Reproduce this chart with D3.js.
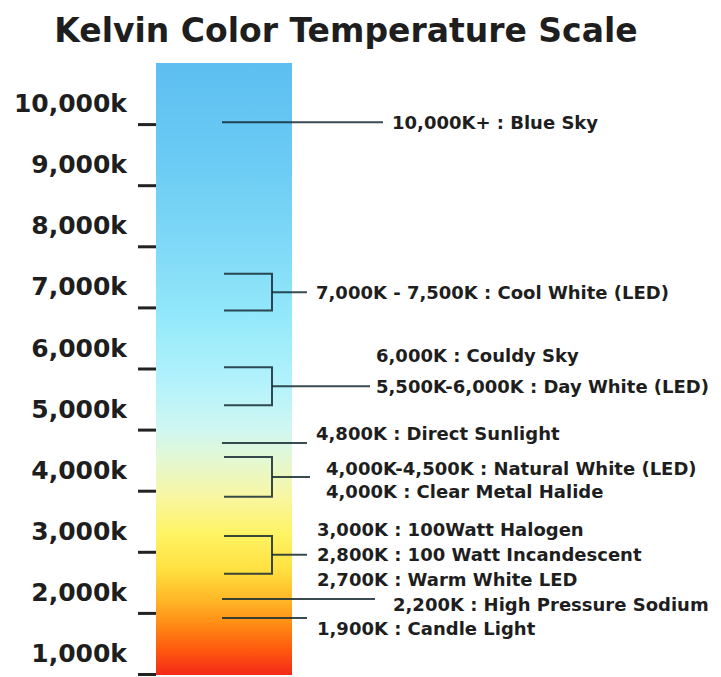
<!DOCTYPE html>
<html>
<head>
<meta charset="utf-8">
<script src="https://cdn.jsdelivr.net/npm/d3@7"></script>
<style>
  html, body { margin: 0; padding: 0; background: #fff; }
  svg { display: block; }
  text { font-family: "DejaVu Sans", sans-serif; fill: #1e1e1e; }
</style>
</head>
<body>
<div id="chart"></div>
<script>
// Axis ticks
const tickValues = [1000, 2000, 3000, 4000, 5000, 6000, 7000, 8000, 9000, 10000];
const tickLabels = ["1,000k", "2,000k", "3,000k", "4,000k", "5,000k", "6,000k", "7,000k", "8,000k", "9,000k", "10,000k"];

// Gradient stops (kelvin -> colour)
const stopKelvin = [1000, 1400, 1800, 2200, 2700, 3300, 3900, 4500, 5000, 5800, 6800, 8000, 9500, 11000];
const stopColors = ["#f42a18", "#ff5a0e", "#ff8a14", "#ffb626", "#ffe040", "#fff464", "#f8f6a2", "#e4f8d2", "#cff7f2", "#b2f2fc", "#94e9fa", "#7fd9f7", "#6acaf4", "#5cbff1"];

// Single-line markers
const markValues = [10030, 4780, 2227, 1916];
const markLabels = ["10,000K+ : Blue Sky", "4,800K : Direct Sunlight", "2,200K : High Pressure Sodium", "1,900K : Candle Light"];

// Bracketed ranges [upper, lower]
const bracketRanges = [[7550, 6950], [6020, 5400], [4550, 3900], [3260, 2640]];
const bracketLabels = [
    ["7,000K - 7,500K : Cool White (LED)"],
    ["6,000K : Couldy Sky", "5,500K-6,000K : Day White (LED)"],
    ["4,000K-4,500K : Natural White (LED)", "4,000K : Clear Metal Halide"],
    ["3,000K : 100Watt Halogen", "2,800K : 100 Watt Incandescent", "2,700K : Warm White LED"]
];

const width = 721, height = 677;
const barLeft = 156, barRight = 292;

const svg = d3.select('#chart').append('svg')
    .attr('width', width)
    .attr('height', height);

const y = d3.scaleLinear()
    .domain([1000, 11000])
    .range([674, 63]);

// Gradient
const defs = svg.append('defs');
const grad = defs.append('linearGradient')
    .attr('id', 'kelvin')
    .attr('gradientUnits', 'userSpaceOnUse')
    .attr('x1', 0).attr('x2', 0)
    .attr('y1', y(1000)).attr('y2', y(11000));

grad.selectAll('stop')
    .data(stopKelvin)
    .enter()
    .append('stop')
    .attr('offset', d => (d - 1000) / 10000)
    .attr('stop-color', (d, i) => stopColors[i]);

svg.append('rect')
    .attr('x', barLeft)
    .attr('y', y(11000))
    .attr('width', barRight - barLeft)
    .attr('height', y(1000) - y(11000) + 1)
    .attr('fill', 'url(#kelvin)');

// Title
svg.append('text')
    .attr('x', 346)
    .attr('y', 42)
    .attr('text-anchor', 'middle')
    .style('font-size', '33px')
    .style('font-weight', 'bold')
    .text('Kelvin Color Temperature Scale');

// Axis
const axis = svg.append('g')
    .attr('transform', `translate(${barLeft},0)`)
    .call(d3.axisLeft(y)
        .tickValues(tickValues)
        .tickSize(18)
        .tickPadding(11)
        .tickFormat((d, i) => tickLabels[i]));

axis.select('.domain').remove();
axis.selectAll('.tick line')
    .attr('stroke', '#222')
    .attr('stroke-width', 3);
axis.selectAll('.tick text')
    .attr('dy', '-0.5em')
    .attr('fill', '#1e1e1e')
    .style('font-family', '"DejaVu Sans", sans-serif')
    .style('font-size', '25px')
    .style('font-weight', 'bold');

const lineColor = 'rgba(22, 42, 52, 0.85)';
const labelSize = '18px';

// Single markers
const markEnd = [383, 307, 375, 307];
const markTextX = [392, 316, 393, 317];
const markTextDy = [0, -10, 5, 10];

const marks = svg.append('g');
markValues.forEach((v, i) => {
    marks.append('line')
        .attr('x1', 222).attr('x2', markEnd[i])
        .attr('y1', y(v)).attr('y2', y(v))
        .attr('stroke', lineColor)
        .attr('stroke-width', 2);
    marks.append('text')
        .attr('x', markTextX[i])
        .attr('y', y(v) + markTextDy[i])
        .attr('dy', '0.36em')
        .style('font-size', labelSize)
        .style('font-weight', 'bold')
        .text(markLabels[i]);
});

// Brackets
const bracketEnd = [307, 370, 310, 307];
const bracketTextX = [316, 376, 326, 317];
const bracketFirstDy = [0, -31, -8, -25];
const bracketLineGap = [0, 31, 23, 25];

const brackets = svg.append('g');
bracketRanges.forEach((r, i) => {
    const y0 = y(r[0]), y1 = y(r[1]);
    const mid = (y0 + y1) / 2;
    const vx = 272;
    brackets.append('path')
        .attr('d', d3.line()([[224, y0], [vx, y0], [vx, y1], [224, y1]]))
        .attr('fill', 'none')
        .attr('stroke', lineColor)
        .attr('stroke-width', 2);
    brackets.append('line')
        .attr('x1', vx).attr('x2', bracketEnd[i])
        .attr('y1', mid).attr('y2', mid)
        .attr('stroke', lineColor)
        .attr('stroke-width', 2);
    bracketLabels[i].forEach((t, j) => {
        brackets.append('text')
            .attr('x', bracketTextX[i])
            .attr('y', mid + bracketFirstDy[i] + j * bracketLineGap[i])
            .attr('dy', '0.36em')
            .style('font-size', labelSize)
            .style('font-weight', 'bold')
            .text(t);
    });
});
</script>
</body>
</html>
